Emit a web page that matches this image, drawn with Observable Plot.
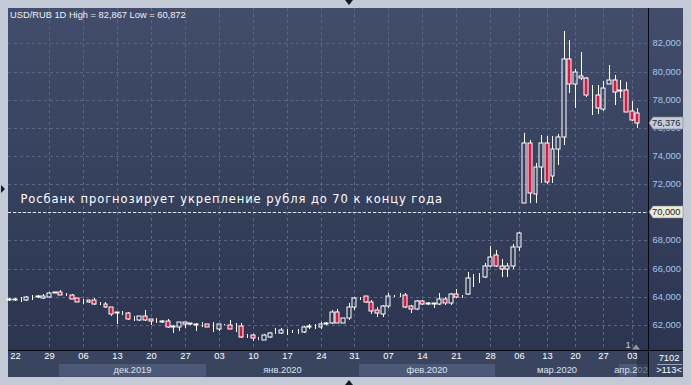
<!DOCTYPE html>
<html><head><meta charset="utf-8">
<script src="https://cdn.jsdelivr.net/npm/d3@7"></script>
<script src="https://cdn.jsdelivr.net/npm/@observablehq/plot@0.6"></script>
<style>
html,body{margin:0;padding:0;background:#c3cad6;}
#chart{width:691px;height:385px;position:relative;overflow:hidden}
svg{display:block}
</style></head><body><div id="chart"></div>
<script>
// ---- data ----
const opens = [63.85,63.75,63.82,63.80,63.98,64.00,63.90,64.00,64.30,64.31,64.18,64.10,63.90,63.68,63.75,63.77,63.57,63.50,63.25,62.88,62.86,62.82,62.40,62.35,62.60,62.40,62.29,62.24,62.28,61.87,61.88,62.18,62.09,62.10,62.05,62.06,61.75,61.70,62.05,62.00,61.82,61.92,61.19,61.28,61.04,60.93,61.17,61.44,61.40,61.58,61.56,61.56,61.52,61.87,61.91,61.88,62.10,62.16,62.94,62.16,62.47,63.25,63.88,64.05,63.65,63.06,62.78,63.34,64.04,64.11,64.12,63.34,63.13,63.70,63.52,63.52,63.46,63.82,63.53,64.17,63.96,64.17,65.30,65.37,65.38,66.20,67.00,66.20,65.97,66.20,67.50,70.69,74.90,71.28,73.20,74.90,72.60,74.47,75.33,80.87,79.11,79.55,79.52,78.30,78.31,77.32,79.09,79.37,78.62,78.66,77.20,77.03];
const highs = [63.90,63.90,64.00,64.05,64.13,64.10,64.20,64.32,64.35,64.48,64.25,64.20,63.92,63.85,63.80,63.90,63.65,63.65,63.30,62.95,63.00,62.90,62.65,62.65,63.06,62.42,62.47,62.35,62.40,62.00,62.20,62.23,62.15,62.12,62.23,62.08,62.23,62.10,62.10,62.36,62.11,62.16,61.35,61.35,61.17,61.35,61.52,61.76,61.76,61.69,61.65,61.69,61.92,62.06,62.06,62.23,62.18,63.06,63.10,62.50,63.53,64.00,63.96,64.08,63.77,63.25,63.41,64.24,64.12,64.24,64.24,63.41,63.77,63.77,63.65,63.58,64.24,63.96,64.24,64.53,64.10,65.78,65.62,65.70,66.38,67.61,67.33,66.66,66.40,67.75,68.63,75.61,75.14,73.48,75.49,75.42,75.42,75.54,82.867,82.24,80.16,81.39,79.59,79.04,79.02,79.30,80.46,79.73,79.40,79.26,77.91,77.39];
const lows = [63.70,63.70,63.65,63.70,63.80,63.90,63.85,63.98,64.25,64.10,64.05,63.82,63.60,63.50,63.58,63.45,63.40,63.22,62.66,62.10,62.70,62.35,62.30,62.30,62.25,62.00,62.17,62.12,61.76,61.45,61.60,61.76,62.00,61.60,61.88,61.85,61.52,61.60,62.00,61.68,61.52,61.05,61.05,60.872,60.93,60.90,61.05,61.35,61.35,61.28,61.45,61.35,61.45,61.69,61.69,61.69,61.99,62.06,62.11,62.11,62.35,63.06,63.77,63.53,62.78,62.54,62.59,63.18,63.96,63.96,63.18,62.82,63.06,63.41,63.41,63.18,63.41,63.41,63.41,63.94,63.90,64.12,64.72,64.96,65.31,66.14,66.14,65.43,65.43,65.95,67.28,70.69,70.64,70.64,72.10,72.00,72.06,73.38,74.78,78.50,77.39,79.40,78.17,76.91,76.98,77.22,79.09,77.65,78.10,77.15,76.49,75.97];
const closes = [63.75,63.85,63.84,63.95,64.00,64.02,64.05,64.30,64.32,64.15,64.20,63.87,63.65,63.70,63.60,63.50,63.59,63.25,62.80,62.90,62.88,62.40,62.42,62.63,62.35,62.25,62.31,62.26,61.83,61.89,62.18,62.04,62.11,61.97,62.07,61.88,61.77,62.06,62.07,61.73,61.84,61.17,61.21,61.05,61.06,61.28,61.45,61.46,61.64,61.60,61.58,61.58,61.88,61.89,61.93,62.06,62.12,62.94,62.16,62.47,63.25,63.89,63.90,63.65,63.01,62.82,63.34,64.05,64.06,64.13,63.30,63.13,63.70,63.46,63.54,63.54,63.82,63.53,64.17,63.96,64.00,65.31,65.32,65.39,66.20,66.85,66.20,65.97,66.20,67.50,68.50,74.90,71.40,73.20,74.90,72.18,74.47,75.33,80.87,79.11,79.99,79.65,78.31,78.32,77.39,78.81,79.37,78.57,78.66,77.15,76.53,76.376];

const tickIdx = [1,7,13,19,25,31,37,43,49,55,61,67,73,79,85,90,95,100,105,110];
const tickLabels = ["22","29","06","13","20","27","03","10","17","24","31","07","14","21","28","06","13","20","27","03"];
const yTicks = [62,64,66,68,70,72,74,76,78,80,82];

const monthLabels = ["дек.2019","янв.2020","фев.2020","мар.2020","апр.2020"];
const monthStart = [8.8,34.8,61.8,85.8,107.8];
const monthEnd = [34.8,61.8,85.8,107.8,113];
const monthShade = [true,false,true,false,true];

const title = "USD/RUB 1D High = 82,867 Low = 60,872";
const annotation = "Росбанк прогнозирует укрепление рубля до 70 к концу года";
const annotationLevel = 70.91;
const forecastLevel = 70;
const lastClose = 76.376;
const cornerTop = "7102", cornerBottom = ">113<", markerLabel = "1";

// ---- build ----
const candles = opens.map((o, i) => ({i, open: o, high: highs[i], low: lows[i], close: closes[i]}));
const ticks = tickIdx.map((p, k) => ({i: p, label: tickLabels[k]}));
const fmt = v => v.toFixed(3).replace(".", ",");
const FONT = "'Liberation Sans', Arial, sans-serif";

const chart = Plot.plot({
  width: 691, height: 385,
  marginLeft: 8, marginTop: 8, marginRight: 43, marginBottom: 35,
  style: {background: "transparent", fontFamily: FONT, fontSize: "9.3px", overflow: "visible"},
  x: {type: "linear", domain: [-0.23, 112.88], axis: null, round: true},
  y: {domain: [60.22, 84.51], axis: null, round: true},
  marks: [
    Plot.gridY(yTicks, {stroke: "#5a6886", strokeOpacity: 1, strokeDasharray: "3,3"}),
    Plot.gridX(tickIdx.slice(1), {stroke: "#5a6886", strokeOpacity: 1, strokeDasharray: "3,3"}),
    Plot.ruleY([forecastLevel], {stroke: "#e4e8f0", strokeDasharray: "3,2"}),
    Plot.ruleX(candles, {x: "i", y1: "high", y2: d => Math.max(d.open, d.close), stroke: "#ffffff"}),
    Plot.ruleX(candles, {x: "i", y1: d => Math.min(d.open, d.close), y2: "low", stroke: "#ffffff"}),
    Plot.rect(candles, {x1: d => d.i - 0.35, x2: d => d.i + 0.35, y1: "open", y2: "close",
      fill: d => d.close < d.open ? "#e3143c" : "none", stroke: "#ffffff", strokeWidth: 1}),
    Plot.text([{t: annotation, y: annotationLevel}], {text: "t", y: "y", frameAnchor: "left", dx: 12,
      textAnchor: "start", fill: "#ffffff", fontFamily: "'DejaVu Sans', sans-serif", fontSize: 11.5}),
    Plot.axisY(yTicks, {anchor: "right", tickSize: 0, tickPadding: 4, tickFormat: fmt, fill: "#a8c6ef", fontSize: 9.3}),
    Plot.text(ticks, {x: "i", text: "label", frameAnchor: "bottom", dy: 8.3, fill: "#ffffff", fontSize: 9.3})
  ]
});
document.getElementById("chart").appendChild(chart);

// ---- chrome around the plot, positioned with the plot's own scales ----
const svg = d3.select(chart);
const xs = chart.scale("x"), ys = chart.scale("y");
const X = v => xs.apply(v), Y = v => ys.apply(v);
const L = 8, R = 648, T = 8, B = 350, PR = 683, PB = 377;

svg.selectAll("text").filter(function(){ return this.textContent === annotation; })
  .style("letter-spacing", "0.93px");

const back = svg.insert("g", ":first-child");
const defs = svg.insert("defs", ":first-child");
const grad = defs.append("linearGradient").attr("id", "bgGrad").attr("gradientUnits", "userSpaceOnUse")
  .attr("x1", 0).attr("y1", T).attr("x2", 0).attr("y2", B);
grad.append("stop").attr("offset", 0).attr("stop-color", "#414d6b");
grad.append("stop").attr("offset", 1).attr("stop-color", "#2b3550");
defs.append("clipPath").attr("id", "clipFrame").append("rect").attr("x", L).attr("y", 0).attr("width", R - L).attr("height", 385);

back.append("rect").attr("x", L).attr("y", T).attr("width", PR - L).attr("height", B - T).attr("fill", "url(#bgGrad)");
back.append("rect").attr("x", L).attr("y", B).attr("width", PR - L).attr("height", PB - B).attr("fill", "#39455f");
const months = back.append("g").attr("clip-path", "url(#clipFrame)");
monthLabels.forEach((m, k) => {
  const x1 = X(monthStart[k]), x2 = Math.min(X(monthEnd[k]), R);
  if (monthShade[k]) months.append("rect").attr("x", x1).attr("y", 364).attr("width", x2 - x1).attr("height", 12.7).attr("fill", "#4b5876");
  months.append("text").attr("x", (x1 + x2) / 2).attr("y", 373).attr("text-anchor", "middle")
    .attr("fill", "#dde4ef").attr("font-family", FONT).attr("font-size", 9.3).text(m);
});

const front = svg.append("g").attr("text-anchor", "start");
front.append("rect").attr("x", X(110.95)).attr("y", B + 1).attr("width", R - X(110.95)).attr("height", PB - B - 1)
  .attr("fill", "#222b42").attr("opacity", 0.55);
front.append("line").attr("x1", R + 0.5).attr("x2", R + 0.5).attr("y1", T).attr("y2", PB).attr("stroke", "#06090f");
front.append("line").attr("x1", L).attr("x2", PR).attr("y1", B + 0.5).attr("y2", B + 0.5).attr("stroke", "#06090f");

function tag(v, fill, label) {
  const yc = Y(v);
  front.append("path").attr("d", `M${R + 1},${yc} L${R + 5},${yc - 6} L${PR},${yc - 6} L${PR},${yc + 6} L${R + 5},${yc + 6} Z`)
    .attr("fill", fill).attr("stroke", "#7d8798").attr("stroke-width", 0.6);
  front.append("text").attr("x", R + 4).attr("y", yc + 3.4).attr("text-anchor", "start").attr("fill", "#1b2538")
    .attr("font-family", FONT).attr("font-size", 9.3).text(label);
}
tag(lastClose, "#c7ccd5", fmt(lastClose));
tag(forecastLevel, "#eeead0", fmt(forecastLevel));

front.append("text").attr("x", 10).attr("y", 18.3).attr("text-anchor", "start").attr("fill", "#eef1f6")
  .attr("font-family", FONT).attr("font-size", 9.3).text(title);

front.append("text").attr("x", 628).attr("y", 348.3).attr("text-anchor", "middle").attr("fill", "#c9d0de")
  .attr("font-family", FONT).attr("font-size", 9.3).text(markerLabel);
front.append("path").attr("d", "M632,349.5 L636,344.5 L640,349.5 Z").attr("fill", "#8e98ab");

front.append("text").attr("x", 669).attr("y", 360.5).attr("text-anchor", "middle").attr("fill", "#ffffff")
  .attr("font-family", FONT).attr("font-size", 9.3).text(cornerTop);
front.append("line").attr("x1", 657).attr("x2", 682).attr("y1", 364.5).attr("y2", 364.5).attr("stroke", "#9aa4b8");
front.append("text").attr("x", 669).attr("y", 373.3).attr("text-anchor", "middle").attr("fill", "#ffffff")
  .attr("font-family", FONT).attr("font-size", 9.3).text(cornerBottom);

front.append("path").attr("d", "M345,0 L353,0 L349,5 Z").attr("fill", "#141824");
front.append("path").attr("d", "M345,385 L353,385 L349,380 Z").attr("fill", "#141824");
front.append("path").attr("d", "M1,185 L1,193 L5,189 Z").attr("fill", "#141824");
</script></body></html>
